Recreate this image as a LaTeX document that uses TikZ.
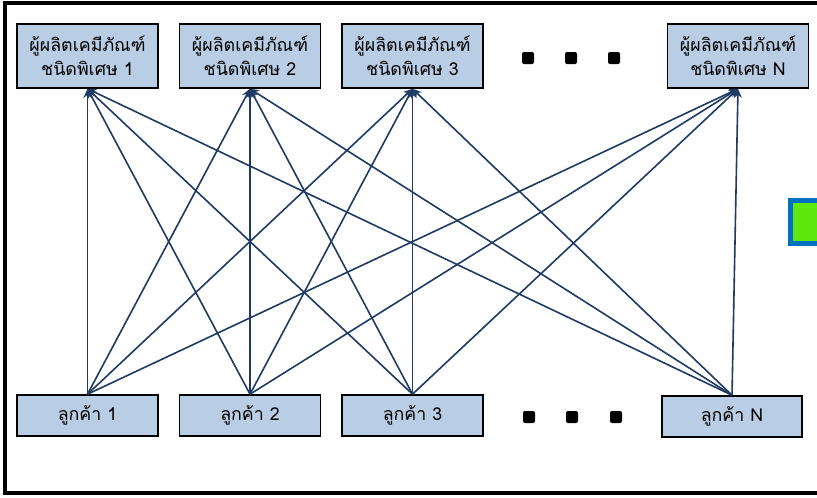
\documentclass[tikz,border=0pt]{standalone}
\usepackage{fontspec}
\newfontfamily\thaifont[Script=Thai]{Loma}
\usetikzlibrary{arrows.meta}
\definecolor{boxfill}{HTML}{B9CDE5}
\definecolor{arrowcol}{HTML}{1F3A63}
\definecolor{greenfill}{HTML}{5EE80F}
\definecolor{bluebord}{HTML}{0070C0}
\tikzset{
  prodbox/.style={draw=black, line width=1.6pt, fill=boxfill, minimum width=141pt, minimum height=64pt, align=center, font=\thaifont\fontsize{17.8}{24}\selectfont, inner sep=0pt},
  custbox/.style={draw=black, line width=1.6pt, fill=boxfill, minimum width=141pt, minimum height=41pt, align=center, font=\thaifont\fontsize{17.8}{20}\selectfont, inner sep=0pt},
  dotbox/.style={fill=black, rounded corners=2pt, minimum width=12pt, minimum height=12pt, inner sep=0pt},
  link/.style={draw=arrowcol, line width=1.6pt, -{Stealth[length=9pt,width=8pt]}}
}
\begin{document}
\begin{tikzpicture}[x=1pt,y=-1pt]
\useasboundingbox (0,0) rectangle (817,498);
\fill[white] (0,0) rectangle (817,498);
% outer frame
\draw[line width=4pt] (820,3) -- (5,3) -- (5,493) -- (820,493);
% green square at right edge
\begin{scope}
\clip (0,0) rectangle (817,498);
\draw[draw=bluebord, line width=5pt, fill=greenfill] (790.5,200.5) rectangle (830,243);
\end{scope}
% producers
\node[prodbox] (p1) at (87.5,56) {ผู้ผลิตเคมีภัณฑ์\\ชนิดพิเศษ 1};
\node[prodbox] (p2) at (250,56) {ผู้ผลิตเคมีภัณฑ์\\ชนิดพิเศษ 2};
\node[prodbox] (p3) at (412.5,56) {ผู้ผลิตเคมีภัณฑ์\\ชนิดพิเศษ 3};
\node[prodbox] (pN) at (738,56) {ผู้ผลิตเคมีภัณฑ์\\ชนิดพิเศษ N};
% customers
\node[custbox] (c1) at (87.5,415.5) {ลูกค้า 1};
\node[custbox] (c2) at (250,415.5) {ลูกค้า 2};
\node[custbox] (c3) at (412.5,415.5) {ลูกค้า 3};
\node[custbox, minimum width=140pt] (cN) at (732,416.5) {ลูกค้า N};
% dots
\node[dotbox] (dt1) at (528,58) {};
\node[dotbox] (dt2) at (571,58) {};
\node[dotbox] (dt3) at (614,58) {};
\node[dotbox] (db1) at (529,417) {};
\node[dotbox] (db2) at (572,417) {};
\node[dotbox] (db3) at (616,417) {};
% links
\foreach \c in {c1,c2,c3,cN}{
  \foreach \p in {p1,p2,p3,pN}{
    \draw[link] (\c.north) -- (\p.south);
  }
}
\end{tikzpicture}
\end{document}
